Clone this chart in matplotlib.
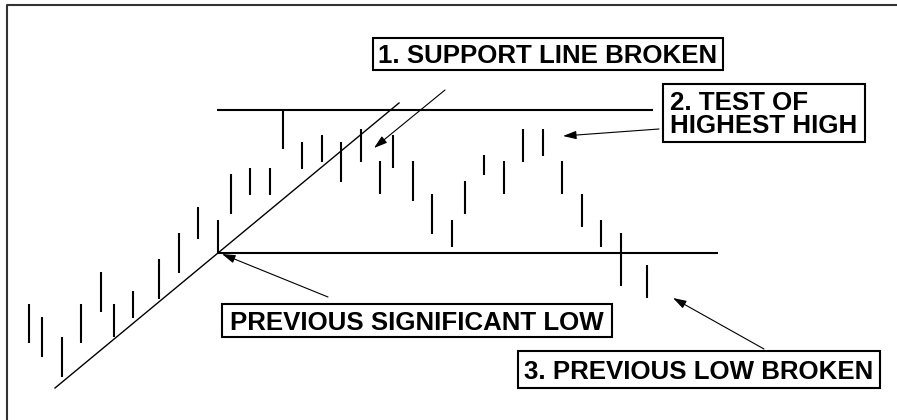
import matplotlib
matplotlib.use("Agg")
import matplotlib.pyplot as plt
from matplotlib.patches import Rectangle

plt.rcParams['font.family'] = ['Liberation Sans', 'DejaVu Sans']

# price bars: x position, high, low (chart units, y up)
bar_x = [29, 42, 62, 81, 101, 114, 133, 159, 179, 198, 218, 231, 250, 270, 283,
         302, 322, 341, 361, 380, 393, 413, 432, 452, 465, 484, 504, 523, 543,
         562, 582, 601, 621, 647]
bar_high = [116, 103, 83, 116, 148, 116, 129, 161, 187, 213, 200, 246, 252, 252, 310,
            278, 285, 278, 291, 259, 285, 259, 226, 200, 239, 265, 259, 291, 291,
            259, 226, 200, 187, 155]
bar_low = [77, 63, 43, 77, 108, 83, 102, 121, 147, 181, 167, 206, 225, 225, 271,
           251, 258, 238, 258, 226, 252, 219, 186, 173, 206, 245, 226, 258, 264,
           226, 193, 173, 134, 122]

# reference lines
highest_high = 310
high_span = [217, 653]
previous_low = 167
low_span = [218, 718]
support_x = [55, 399]
support_y = [32, 317]

# labels: text, box (x0, y0, x1, y1), arrow tail, arrow head
labels = [
    ("1. SUPPORT LINE BROKEN", (373, 350, 723, 382), (445, 330), (374, 272)),
    ("PREVIOUS SIGNIFICANT LOW", (222, 83, 612, 116), (328, 123), (222, 166)),
    ("3. PREVIOUS LOW BROKEN", (518, 32, 880, 69), (764, 71), (673, 122)),
]
label2_lines = ["2. TEST OF", "HIGHEST HIGH"]
label2_box = (663, 278, 865, 336)
label2_arrow = ((659, 291), (563, 284))

fig = plt.figure(figsize=(8.97, 4.2), dpi=100)
ax = fig.add_axes([0, 0, 1, 1])
ax.set_xlim(0, 897)
ax.set_ylim(0, 420)
ax.axis('off')

# frame (left and top edge)
ax.plot([7, 7, 897], [0, 415, 415], color='#333333', lw=1.5, solid_capstyle='butt')

ax.vlines(bar_x, bar_low, bar_high, color='black', lw=1.5)
ax.hlines(highest_high, high_span[0], high_span[1], color='black', lw=1.5)
ax.hlines(previous_low, low_span[0], low_span[1], color='black', lw=1.5)
ax.plot(support_x, support_y, color='black', lw=1.0)

arrow = dict(arrowstyle='-|>,head_length=0.8,head_width=0.25', color='black',
             lw=0.8, shrinkA=0, shrinkB=0, mutation_scale=10)
fs = 18.6
cap = 9.3

for text, (x0, y0, x1, y1), tail, head in labels:
    ax.annotate('', xy=head, xytext=tail, arrowprops=arrow)
    ax.add_patch(Rectangle((x0, y0), x1 - x0, y1 - y0, fill=True, fc='white',
                           ec='black', lw=1.5))
    ax.text((x0 + x1) / 2, (y0 + y1) / 2 - cap, text, ha='center', va='baseline',
            fontsize=fs, fontweight='bold')

x0, y0, x1, y1 = label2_box
ax.annotate('', xy=label2_arrow[1], xytext=label2_arrow[0], arrowprops=arrow)
ax.add_patch(Rectangle((x0, y0), x1 - x0, y1 - y0, fill=True, fc='white',
                       ec='black', lw=1.5))
ax.text(x0 + 7, 310.5, label2_lines[0], ha='left', va='baseline',
        fontsize=fs, fontweight='bold')
ax.text(x0 + 7, 287, label2_lines[1], ha='left', va='baseline',
        fontsize=fs, fontweight='bold')

fig.savefig('out.png', dpi=100)
